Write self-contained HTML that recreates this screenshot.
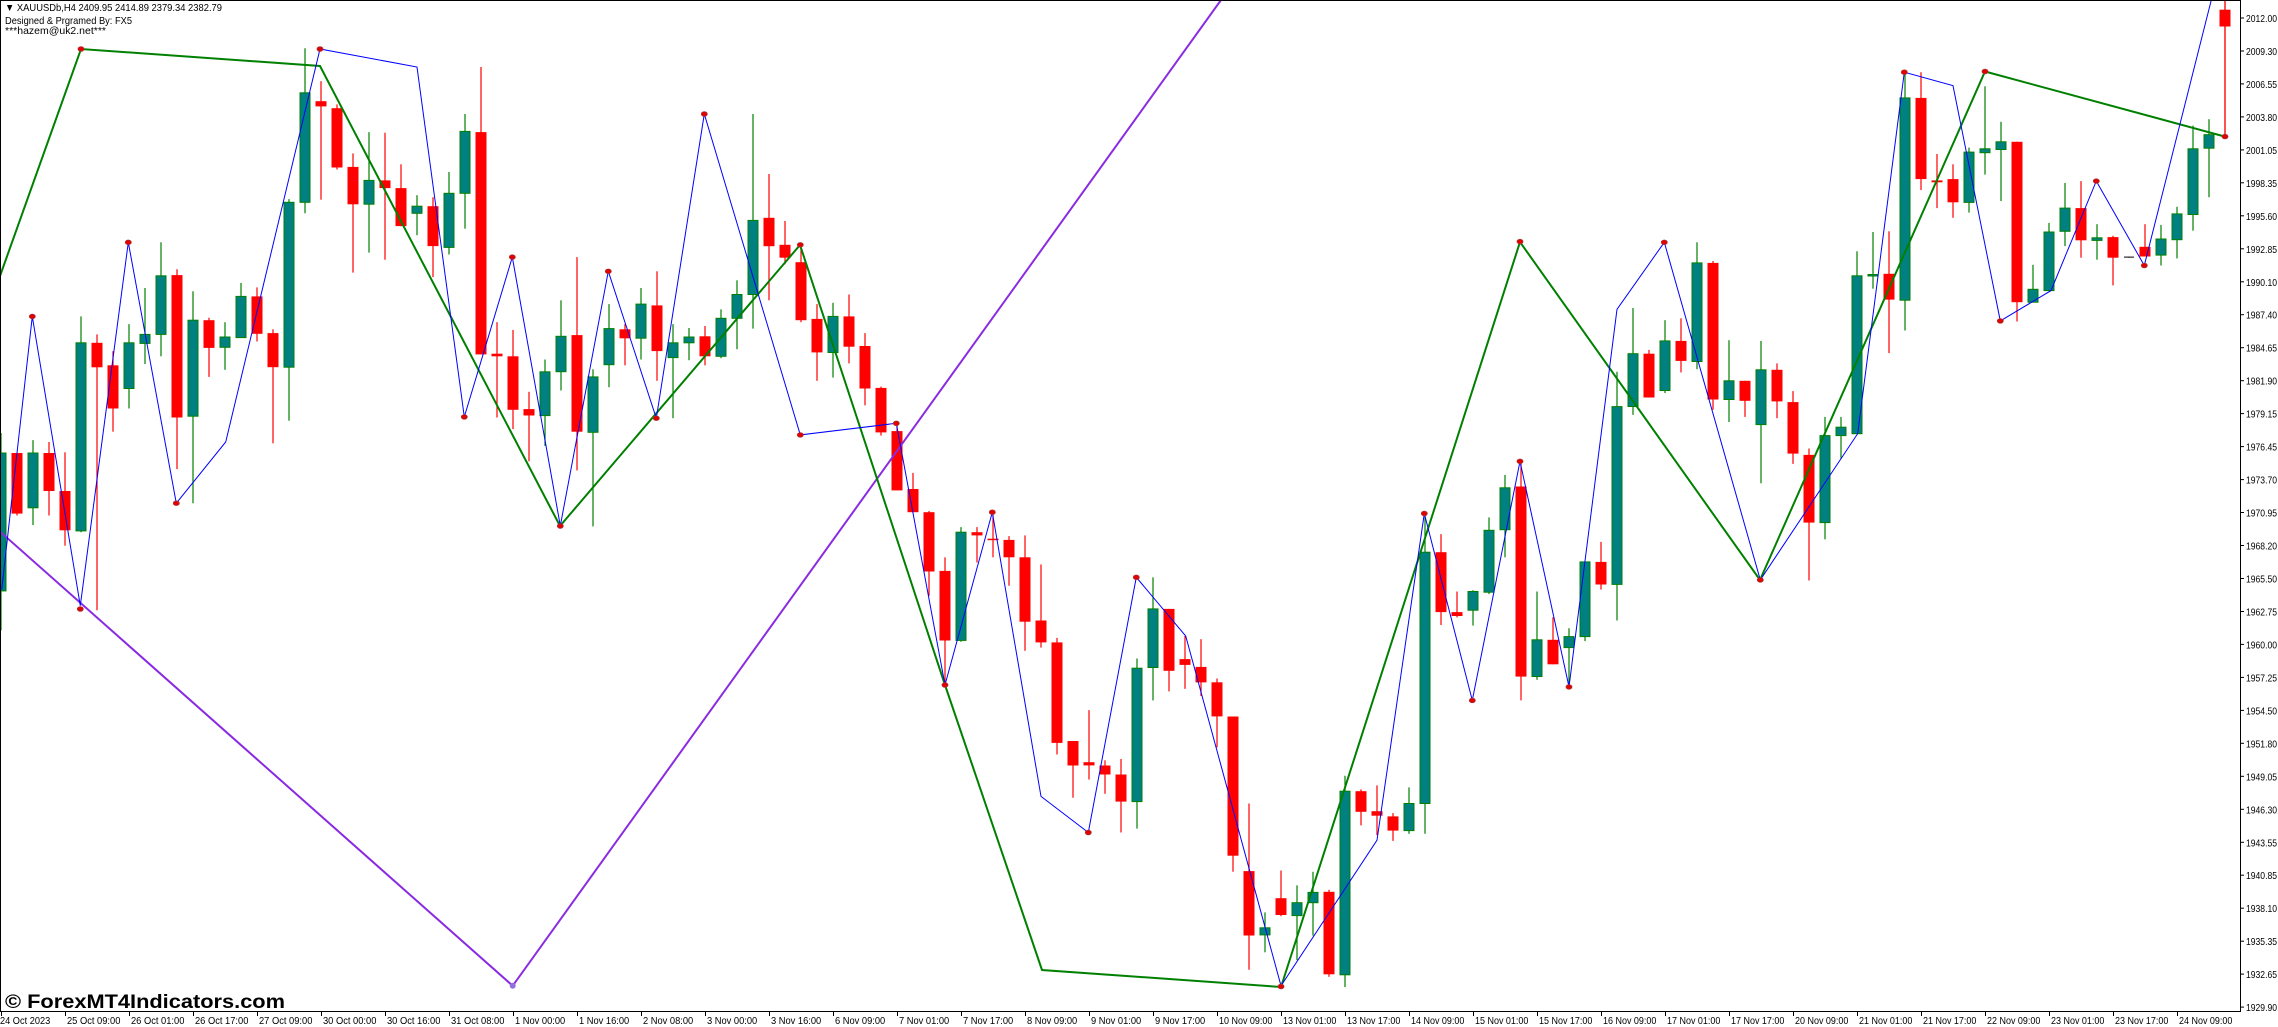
<!DOCTYPE html>
<html><head><meta charset="utf-8"><style>
html,body{margin:0;padding:0;background:#fff;}
svg{display:block;font-family:"Liberation Sans",sans-serif;}
</style></head><body>
<svg id="c" width="2278" height="1027" viewBox="0 0 2278 1027" xmlns="http://www.w3.org/2000/svg">
<rect width="2278" height="1027" fill="#fff"/>
<g id="cand"></g>
<g id="lines"></g>
<g id="axes"></g>
<text x="5" y="11" font-size="10.5" fill="#000" textLength="217" lengthAdjust="spacingAndGlyphs">▼ XAUUSDb,H4  2409.95 2414.89 2379.34 2382.79</text>
<text x="5" y="24" font-size="10.5" fill="#000" textLength="127" lengthAdjust="spacingAndGlyphs">Designed &amp; Prgramed By: FX5</text>
<text x="5" y="34" font-size="10.5" fill="#000" textLength="101" lengthAdjust="spacingAndGlyphs">***hazem@uk2.net***</text>
<text x="5" y="1008" font-size="19" font-weight="bold" fill="#000" textLength="280" lengthAdjust="spacingAndGlyphs">© ForexMT4Indicators.com</text>
</svg>
<script>
var S=1/1.552;
var C=[
[703,917,672,978,'g'],[703,797,703,800,'r'],[703,788,683,815,'g'],[703,762,686,800,'r'],[762,823,702,847,'r'],
[532,824,491,826,'g'],[532,570,519,947,'r'],[567,634,545,670,'r'],[532,603,503,634,'g'],[519,533,447,565,'g'],
[428,519,376,553,'g'],[427,648,418,728,'r'],[497,646,452,781,'g'],[497,540,493,585,'r'],[523,539,500,574,'g'],
[460,524,439,524,'g'],[460,518,446,530,'r'],[517,570,511,688,'r'],[314,570,309,653,'g'],[144,314,75,331,'g'],
[157,165,126,310,'r'],[168,260,162,263,'r'],[259,317,238,423,'r'],[280,317,205,392,'g'],
[280,292,206,403,'r'],[292,351,255,351,'r'],[320,331,303,365,'g'],[320,382,306,430,'r'],[300,384,267,395,'g'],
[204,300,177,355,'g'],[205,550,104,550,'r'],[549,553,500,648,'r'],[553,636,512,666,'r'],[635,645,608,716,'r'],
[577,645,558,692,'g'],[522,577,466,606,'g'],[520,670,399,730,'r'],[585,671,573,817,'g'],[510,566,472,601,'g'],
[511,525,503,567,'r'],[472,525,447,558,'g'],[474,545,421,591,'r'],[532,555,503,649,'g'],[523,532,509,559,'g'],
[522,553,506,567,'r'],[494,553,480,556,'g'],[457,494,435,542,'g'],[342,457,177,510,'g'],
[338,382,270,466,'r'],[380,400,343,410,'r'],[407,497,380,500,'r'],[495,547,472,591,'r'],[491,547,470,586,'g'],
[491,538,457,564,'r'],[537,603,517,629,'r'],[602,671,600,676,'r'],[669,761,655,761,'r'],[759,795,734,795,'r'],
[795,887,793,925,'r'],[886,994,865,1063,'r'],[826,994,818,996,'g'],[826,831,818,873,'r'],[836,838,795,865,'r'],
[838,865,832,909,'r'],[865,965,831,1010,'r'],[963,997,876,1005,'r'],[997,1153,990,1171,'r'],[1150,1188,1150,1238,'r'],
[1183,1188,1102,1210,'r'],[1188,1202,1180,1232,'r'],[1202,1244,1178,1292,'r'],[1037,1244,1022,1286,'g'],
[945,1036,896,1087,'g'],[945,1041,945,1073,'r'],[1023,1032,987,1069,'r'],[1035,1059,992,1080,'r'],[1059,1112,1053,1160,'r'],
[1112,1328,1112,1353,'r'],[1352,1452,1247,1505,'r'],[1440,1451,1416,1478,'g'],[1394,1420,1351,1422,'r'],[1401,1421,1374,1490,'g'],
[1385,1401,1353,1452,'g'],[1384,1512,1381,1516,'r'],[1228,1513,1204,1532,'g'],[1228,1260,1225,1281,'r'],[1259,1266,1219,1296,'r'],
[1267,1289,1262,1305,'r'],[1247,1289,1222,1294,'g'],[857,1247,797,1294,'g'],[857,950,829,970,'r'],[950,956,918,958,'r'],
[918,947,916,971,'g'],[823,919,803,922,'g'],[757,822,737,865,'g'],
[755,1050,716,1087,'r'],[993,1050,918,1055,'g'],[993,1031,958,1031,'r'],[988,1005,975,1066,'g'],[872,988,872,995,'g'],
[872,907,841,915,'r'],[631,907,577,963,'g'],[549,631,478,644,'g'],[549,617,543,617,'r'],[529,606,497,610,'g'],
[529,560,494,578,'r'],[408,561,376,573,'g'],[408,620,405,636,'r'],[591,620,528,655,'g'],[591,622,591,647,'r'],
[574,659,529,750,'g'],[574,623,564,649,'r'],[624,704,607,720,'r'],[706,811,696,901,'r'],[676,811,647,837,'g'],
[663,676,647,712,'g'],[428,673,390,673,'g'],[426,427,360,448,'g'],[425,465,359,548,'r'],
[152,466,112,513,'g'],[152,278,112,295,'r'],[280,283,239,323,'r'],[278,314,255,338,'r'],[236,314,229,330,'g'],
[231,237,134,271,'g'],[220,232,189,312,'g'],[220,469,220,499,'r'],[449,469,411,469,'g'],[360,451,346,452,'g'],
[323,359,284,382,'g'],[323,373,281,400,'r'],[369,373,348,403,'g'],[368,400,366,443,'r'],[399,400,399,400,'k'],
[383,398,348,398,'r'],[371,396,349,412,'g'],[332,372,321,401,'g'],[231,333,195,358,'g'],[209,230,185,306,'g'],
[15,41,0,212,'r']
];
var h='';
C.forEach(function(c,i){
 var x=1+16*i,bt=c[0]*S,bb=c[1]*S,wt=c[2]*S,wb=c[3]*S;
 var col=c[4]=='g'?'#008000':(c[4]=='r'?'#ff0000':'#000');
 if(i==139) wt=0;
 h+='<line x1="'+x+'" y1="'+wt.toFixed(1)+'" x2="'+x+'" y2="'+wb.toFixed(1)+'" stroke="'+col+'" stroke-width="1.2"/>';
 var bh=Math.max(bb-bt,1.5);
 if(c[4]=='g') h+='<rect x="'+(x-5)+'" y="'+bt.toFixed(1)+'" width="10" height="'+bh.toFixed(1)+'" fill="#008080" stroke="#008000" stroke-width="1"/>';
 else if(c[4]=='r') h+='<rect x="'+(x-5.5)+'" y="'+bt.toFixed(1)+'" width="11" height="'+bh.toFixed(1)+'" fill="#ff0000"/>';
 else h+='<line x1="'+(x-5)+'" y1="'+bt.toFixed(1)+'" x2="'+(x+5)+'" y2="'+bt.toFixed(1)+'" stroke="#000" stroke-width="1"/>';
});
document.getElementById('cand').innerHTML=h;
function pl(p,col,w){return '<polyline points="'+p.map(function(a){return a.join(',')}).join(' ')+'" fill="none" stroke="'+col+'" stroke-width="'+w+'"/>';}
var green=[[0,276],[81,49],[320,66],[560,526],[800,245],[945,685],[1042,970],[1281,987],[1520,242],[1760,580],[1985,71.5],[2225,136.6]];
var blue=[[1.7,589.6],[32.3,316.4],[80.3,605.7],[128.3,242.3],[176.3,503.2],[225.7,442],[320,49],[417,67],[464.3,416.9],[512.3,257.1],[560.3,525.8],[608.3,271.3],[656.3,418.2],[704.3,114],[800.3,434.9],[896.3,423.3],[945,684.9],[992.3,512.2],[1041,796.4],[1088.3,832.5],[1136.3,577.3],[1185.7,636],[1201.7,694.6],[1281,985.8],[1377,840.2],[1424.3,513.5],[1472.3,700.4],[1520,461.3],[1569,686.9],[1617,309.3],[1664.3,242.3],[1760.3,579.9],[1857.7,433.6],[1904.3,72.2],[1953,85.7],[2000.3,320.9],[2051,290.6],[2096.3,181.1],[2144.3,265.5],[2211.3,0]];
var purple=[[0,531.6],[512.7,985.8],[1221,0]];
var L='';
L+=pl(purple,'#8a2be2',2);
L+='<circle cx="512.7" cy="985.8" r="3" fill="#9370db"/>';
L+=pl(green,'#008000',2);
L+=pl(blue,'#0000ff',1);
L+='<line x1="2225" y1="0" x2="2225" y2="137" stroke="#ff0000" stroke-width="1.2"/>';
var dots=[[81,49],[320,49],[32.3,316.4],[80.3,609],[128.3,242.3],[176.3,503.2],[464.3,416.9],[512.3,257.1],[560.3,526],[608.3,271.3],[656.3,418.2],[704.3,114],[800.3,244.8],[800.3,434.9],[896.3,423.3],[945,685],[992.3,512.2],[1088.3,832.5],[1136.3,577.3],[1281,986.5],[1424.3,513.5],[1472.3,700.4],[1520,241.6],[1520,461.3],[1569,686.9],[1664.3,242.3],[1760.3,579.9],[1904.3,72.2],[1985,71.5],[2000.3,320.9],[2096.3,181.1],[2144.3,265.5],[2225,136.6]];
dots.forEach(function(d){L+='<ellipse cx="'+d[0]+'" cy="'+d[1]+'" rx="3" ry="2.3" fill="#e00000" stroke="#b03030" stroke-width="0.8"/>';});
document.getElementById('lines').innerHTML=L;
var A='<rect x="2240" y="0" width="38" height="1027" fill="#fff"/><rect x="0" y="1011" width="2278" height="16" fill="#fff"/>';
A+='<line x1="0" y1="0.5" x2="2240" y2="0.5" stroke="#000"/>';
A+='<line x1="0.5" y1="0" x2="0.5" y2="1011" stroke="#000"/>';
A+='<line x1="2240.5" y1="0" x2="2240.5" y2="1012" stroke="#000"/>';
A+='<line x1="0" y1="1011.5" x2="2241" y2="1011.5" stroke="#000"/>';
var yl=['2012.00','2009.30','2006.55','2003.80','2001.05','1998.35','1995.60','1992.85','1990.10','1987.40','1984.65','1981.90','1979.15','1976.45','1973.70','1970.95','1968.20','1965.50','1962.75','1960.00','1957.25','1954.50','1951.80','1949.05','1946.30','1943.55','1940.85','1938.10','1935.35','1932.65','1929.90'];
yl.forEach(function(t,k){var y=18+k*32.97;A+='<line x1="2240" y1="'+y.toFixed(1)+'" x2="2244" y2="'+y.toFixed(1)+'" stroke="#000"/><text x="2246" y="'+(y+4).toFixed(1)+'" font-size="10.5" fill="#000" textLength="31" lengthAdjust="spacingAndGlyphs">'+t+'</text>';});
var xl=['24 Oct 2023','25 Oct 09:00','26 Oct 01:00','26 Oct 17:00','27 Oct 09:00','30 Oct 00:00','30 Oct 16:00','31 Oct 08:00','1 Nov 00:00','1 Nov 16:00','2 Nov 08:00','3 Nov 00:00','3 Nov 16:00','6 Nov 09:00','7 Nov 01:00','7 Nov 17:00','8 Nov 09:00','9 Nov 01:00','9 Nov 17:00','10 Nov 09:00','13 Nov 01:00','13 Nov 17:00','14 Nov 09:00','15 Nov 01:00','15 Nov 17:00','16 Nov 09:00','17 Nov 01:00','17 Nov 17:00','20 Nov 09:00','21 Nov 01:00','21 Nov 17:00','22 Nov 09:00','23 Nov 01:00','23 Nov 17:00','24 Nov 09:00'];
xl.forEach(function(t,k){var x=1+64*k;var tl=(t.length*3.2+15).toFixed(1);A+='<line x1="'+(x+0.5)+'" y1="1011" x2="'+(x+0.5)+'" y2="1016" stroke="#000"/><text x="'+(k==0?0:x+2)+'" y="1024" font-size="10.5" fill="#000" textLength="'+tl+'" lengthAdjust="spacingAndGlyphs">'+t+'</text>';});
document.getElementById('axes').innerHTML=A;
</script>
</body></html>
